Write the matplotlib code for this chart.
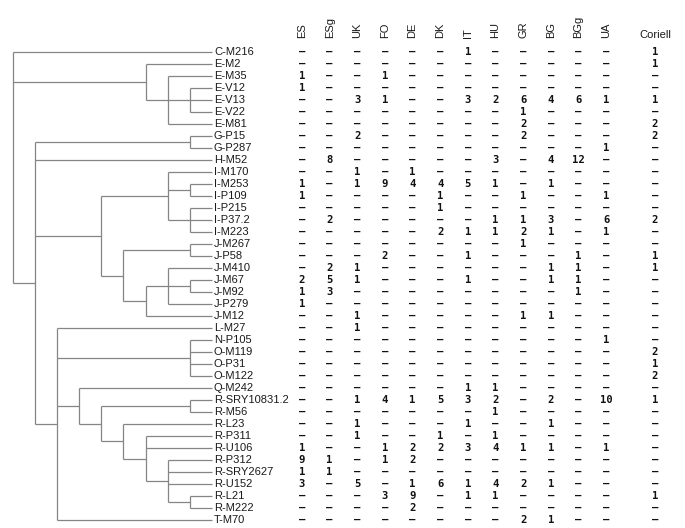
import matplotlib
matplotlib.use("Agg")
import matplotlib.pyplot as plt
from matplotlib.collections import LineCollection

# Haplogroup tree (nested lists, leaves in display order)
tree = [
    "C-M216",
    ["E-M2", ["E-M35", ["E-V12", "E-V13", "E-V22"], "E-M81"]],
    [
        ["G-P15", "G-P287"],
        "H-M52",
        [
            ["I-M170", ["I-M253", "I-P109"], ["I-P215", "I-P37.2", "I-M223"]],
            [["J-M267", "J-P58"],
             [["J-M410", ["J-M67", "J-M92"], "J-P279"], "J-M12"]],
        ],
        [
            "L-M27",
            ["N-P105", "O-M119", "O-P31", "O-M122"],
            ["Q-M242",
             [["R-SRY10831.2", "R-M56"],
              ["R-L23",
               ["R-P311", "R-U106",
                ["R-P312", "R-SRY2627", "R-U152", ["R-L21", "R-M222"]]]]]],
            "T-M70",
        ],
    ],
]

columns = ["ES", "ESg", "UK", "FO", "DE", "DK", "IT", "HU", "GR", "BG", "BGg", "UA"]

# counts per population, one value per haplogroup row (0 = none)
ES = [0, 0, 1, 1, 0, 0, 0, 0, 0, 0, 0, 1, 1, 0, 0, 0, 0, 0, 0, 2,
      1, 1, 0, 0, 0, 0, 0, 0, 0, 0, 0, 0, 0, 1, 9, 1, 3, 0, 0, 0]
ESg = [0, 0, 0, 0, 0, 0, 0, 0, 0, 8, 0, 0, 0, 0, 2, 0, 0, 0, 2, 5,
       3, 0, 0, 0, 0, 0, 0, 0, 0, 0, 0, 0, 0, 0, 1, 1, 0, 0, 0, 0]
UK = [0, 0, 0, 0, 3, 0, 0, 2, 0, 0, 1, 1, 0, 0, 0, 0, 0, 0, 1, 1,
      0, 0, 1, 1, 0, 0, 0, 0, 0, 1, 0, 1, 1, 0, 0, 0, 5, 0, 0, 0]
FO = [0, 0, 1, 0, 1, 0, 0, 0, 0, 0, 0, 9, 0, 0, 0, 0, 0, 2, 0, 0,
      0, 0, 0, 0, 0, 0, 0, 0, 0, 4, 0, 0, 0, 1, 1, 0, 0, 3, 0, 0]
DE = [0, 0, 0, 0, 0, 0, 0, 0, 0, 0, 1, 4, 0, 0, 0, 0, 0, 0, 0, 0,
      0, 0, 0, 0, 0, 0, 0, 0, 0, 1, 0, 0, 0, 2, 2, 0, 1, 9, 2, 0]
DK = [0, 0, 0, 0, 0, 0, 0, 0, 0, 0, 0, 4, 1, 1, 0, 2, 0, 0, 0, 0,
      0, 0, 0, 0, 0, 0, 0, 0, 0, 5, 0, 0, 1, 2, 0, 0, 6, 0, 0, 0]
IT = [1, 0, 0, 0, 3, 0, 0, 0, 0, 0, 0, 5, 0, 0, 0, 1, 0, 1, 0, 1,
      0, 0, 0, 0, 0, 0, 0, 0, 1, 3, 0, 1, 0, 3, 0, 0, 1, 1, 0, 0]
HU = [0, 0, 0, 0, 2, 0, 0, 0, 0, 3, 0, 1, 0, 0, 1, 1, 0, 0, 0, 0,
      0, 0, 0, 0, 0, 0, 0, 0, 1, 2, 1, 0, 1, 4, 0, 0, 4, 1, 0, 0]
GR = [0, 0, 0, 0, 6, 1, 2, 2, 0, 0, 0, 0, 1, 0, 1, 2, 1, 0, 0, 0,
      0, 0, 1, 0, 0, 0, 0, 0, 0, 0, 0, 0, 0, 1, 0, 0, 2, 0, 0, 2]
BG = [0, 0, 0, 0, 4, 0, 0, 0, 0, 4, 0, 1, 0, 0, 3, 1, 0, 0, 1, 1,
      0, 0, 1, 0, 0, 0, 0, 0, 0, 2, 0, 1, 0, 1, 0, 0, 1, 0, 0, 1]
BGg = [0, 0, 0, 0, 6, 0, 0, 0, 0, 12, 0, 0, 0, 0, 0, 0, 0, 1, 1, 1,
       1, 0, 0, 0, 0, 0, 0, 0, 0, 0, 0, 0, 0, 0, 0, 0, 0, 0, 0, 0]
UA = [0, 0, 0, 0, 1, 0, 0, 0, 1, 0, 0, 0, 1, 0, 6, 1, 0, 0, 0, 0,
      0, 0, 0, 0, 1, 0, 0, 0, 0, 10, 0, 0, 0, 1, 0, 0, 0, 0, 0, 0]
Coriell = [1, 1, 0, 0, 1, 0, 2, 2, 0, 0, 0, 0, 0, 0, 2, 0, 0, 1, 1, 0,
           0, 0, 0, 0, 0, 2, 1, 2, 0, 1, 0, 0, 0, 0, 0, 0, 0, 1, 0, 0]

pop_counts = [ES, ESg, UK, FO, DE, DK, IT, HU, GR, BG, BGg, UA]

# layout constants (x in pixels, y in rows)
X0, STEP = 13, 22.1
COL0, COLSTEP = 302, 27.65
CORIELL_X = 655

leaves = []


def place(node):
    if isinstance(node, str):
        leaves.append(node)
        return {"h": 0, "y": len(leaves) - 1, "kids": []}
    kids = [place(c) for c in node]
    ys = [k["y"] for k in kids]
    return {"h": 1 + max(k["h"] for k in kids),
            "y": (min(ys) + max(ys)) / 2, "kids": kids}


root = place(tree)
top = root["h"]
segs = []


def draw(n):
    x = X0 + STEP * (top - n["h"])
    for k in n["kids"]:
        xk = X0 + STEP * (top - k["h"])
        segs.append([(x, k["y"]), (xk, k["y"])])
        draw(k)
    if n["kids"]:
        ys = [k["y"] for k in n["kids"]]
        segs.append([(x, min(ys)), (x, max(ys))])


draw(root)

fig = plt.figure(figsize=(6.85, 5.28), dpi=100)
ax = fig.add_axes([0, 0, 1, 1])
ax.set_xlim(0, 685)
ax.set_ylim((528 - 52) / 12, -52 / 12)
ax.axis("off")

ax.add_collection(LineCollection(segs, colors="#858585", linewidths=0.9))

label_font = dict(family=["Liberation Sans", "DejaVu Sans"], fontsize=8, color="#1a1a1a")
num_font = dict(family="DejaVu Sans Mono", fontsize=7.6, fontweight="bold", color="#111111")

for i, name in enumerate(leaves):
    ax.text(X0 + STEP * top + 2, i, name, ha="left", va="center", **label_font)

head_y = (38 - 52) / 12
for j, col in enumerate(columns):
    x = COL0 + COLSTEP * j
    ax.text(x, head_y, col, rotation=90, ha="center", va="bottom", **label_font)
    for i, v in enumerate(pop_counts[j]):
        ax.text(x, i, str(v) if v else "\u2013", ha="center", va="center", **num_font)

ax.text(CORIELL_X, head_y, "Coriell", ha="center", va="baseline", **label_font)
for i, v in enumerate(Coriell):
    ax.text(CORIELL_X, i, str(v) if v else "\u2013", ha="center", va="center", **num_font)

plt.savefig("out.png", dpi=100)
